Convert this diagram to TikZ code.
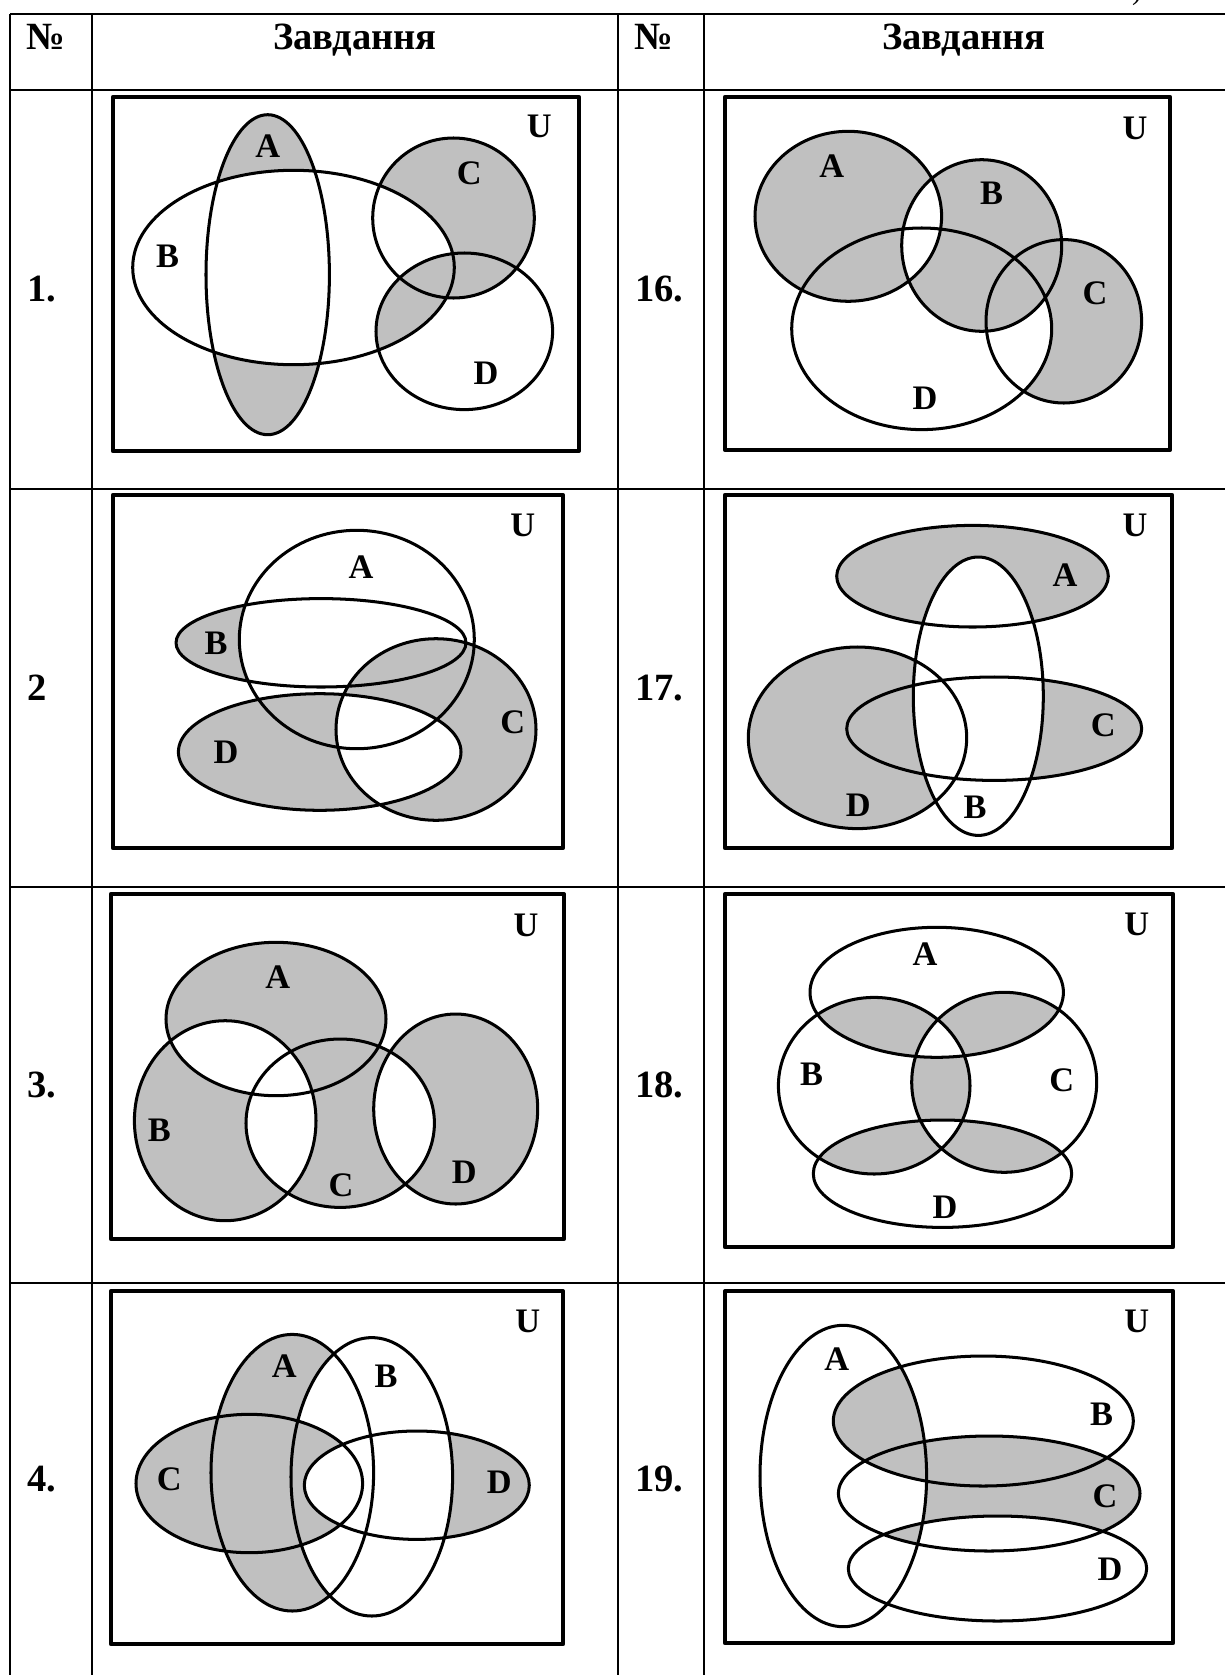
\documentclass[tikz,border=0pt]{standalone}
\usepackage{fontspec}
\setmainfont{Liberation Serif}
\definecolor{vennfill}{RGB}{192,192,192}
\newcommand{\cutin}[1]{\clip #1;}
\newcommand{\cutout}[1]{\clip \bx #1;}
\newcommand{\paintbox}{\fill[vennfill] \bx;}

\begin{document}
\begin{tikzpicture}[x=0.48pt,y=-0.48pt,line join=round,even odd rule,
  venn/.style={line width=1.45pt},
  frame/.style={line width=2pt},
  grid/.style={line width=1pt},
  lbl/.style={font=\bfseries\fontsize{16.5}{18}\selectfont,inner sep=0pt},
  head/.style={font=\bfseries\fontsize{18.5}{20}\selectfont,inner sep=0pt,anchor=base},
  num/.style={font=\bfseries\fontsize{18.5}{20}\selectfont,inner sep=0pt,anchor=west}]
\useasboundingbox (0,0) rectangle (1225,1675);
\node[font=\fontsize{14}{16}\selectfont,inner sep=0pt,anchor=base] (cut) at (1137,-1) {)};
\draw[grid] (10,14) -- (1225,14);
\draw[grid] (10,90) -- (1225,90);
\draw[grid] (10,489) -- (1225,489);
\draw[grid] (10,887) -- (1225,887);
\draw[grid] (10,1283) -- (1225,1283);
\draw[grid] (10,14) -- (10,1675);
\draw[grid] (92,14) -- (92,1675);
\draw[grid] (618,14) -- (618,1675);
\draw[grid] (704,14) -- (704,1675);
\node[head,anchor=base west] (h1) at (26,49) {№};
\node[head] (h2) at (355,49) {Завдання};
\node[head,anchor=base west] (h3) at (634,49) {№};
\node[head] (h4) at (964,49) {Завдання};
\node[num] (n1) at (27,289) {1.};
\node[num] (n2) at (27,688) {2};
\node[num] (n3) at (27,1085) {3.};
\node[num] (n4) at (27,1479) {4.};
\node[num] (n16) at (635,289) {16.};
\node[num] (n17) at (635,688) {17.};
\node[num] (n18) at (635,1085) {18.};
\node[num] (n19) at (635,1479) {19.};

\def\bx{(113,97) rectangle (579,451)}
\def\sA{(267.7,274.7) ellipse [x radius=61.7,y radius=160]}
\def\sB{(293.5,267.5) ellipse [x radius=160.8,y radius=97.2]}
\def\sC{(453.5,218) ellipse [x radius=80.8,y radius=80]}
\def\sD{(464.3,331.3) ellipse [x radius=88.3,y radius=78.3]}
\begin{scope}\cutin\sA\cutout\sB\paintbox\end{scope}
\begin{scope}\cutin\sC\cutout\sB\paintbox\end{scope}
\begin{scope}\cutin\sB\cutin\sD\paintbox\end{scope}
\draw[venn] \sA \sB \sC \sD;
\draw[frame] \bx;
\node[lbl] (a1) at (267.7,146.3) {A};
\node[lbl] (b1) at (167.7,256.3) {B};
\node[lbl] (c1) at (469.3,173) {C};
\node[lbl] (d1) at (486,373) {D};
\node[lbl] (u1) at (539.3,126.3) {U};

\def\bx{(725,97) rectangle (1170,450)}
\def\sA{(848.3,216.3) ellipse [x radius=93.3,y radius=85]}
\def\sB{(981.7,245.5) ellipse [x radius=80,y radius=85.8]}
\def\sC{(1063.8,321.3) ellipse [x radius=77.8,y radius=81.7]}
\def\sD{(921.7,328.8) ellipse [x radius=130,y radius=100.8]}
\begin{scope}\cutin\sA\cutout\sB\paintbox\end{scope}
\begin{scope}\cutin\sB\cutout\sA\paintbox\end{scope}
\begin{scope}\cutin\sC\cutout\sD\paintbox\end{scope}
\draw[venn] \sA \sB \sC \sD;
\draw[frame] \bx;
\node[lbl] (a16) at (831.7,166.3) {A};
\node[lbl] (b16) at (991.7,193) {B};
\node[lbl] (c16) at (1095,293) {C};
\node[lbl] (d16) at (925,398) {D};
\node[lbl] (u16) at (1135,128) {U};

\def\bx{(113,495) rectangle (563,848)}
\def\sA{(356.8,639.5) ellipse [x radius=117.5,y radius=109.2]}
\def\sB{(321,642.8) ellipse [x radius=145,y radius=44.2]}
\def\sC{(436,729.5) ellipse [x radius=100,y radius=90.8]}
\def\sD{(319.7,752) ellipse [x radius=141.3,y radius=58.3]}
\begin{scope}\cutin\sB\cutout\sA\paintbox\end{scope}
\begin{scope}\cutin\sC\cutout\sD\paintbox\end{scope}
\begin{scope}\cutin\sD\cutout\sC\paintbox\end{scope}
\draw[venn] \sA \sB \sC \sD;
\draw[frame] \bx;
\node[lbl] (a2) at (361,567) {A};
\node[lbl] (b2) at (216,643.7) {B};
\node[lbl] (c2) at (512.7,722) {C};
\node[lbl] (d2) at (226,752) {D};
\node[lbl] (u2) at (522.7,525.3) {U};

\def\bx{(725,495) rectangle (1172,848)}
\def\sA{(972.5,576.2) ellipse [x radius=135.8,y radius=50.8]}
\def\sB{(978.3,696.2) ellipse [x radius=65,y radius=139.2]}
\def\sC{(994.2,728.7) ellipse [x radius=147.5,y radius=51.7]}
\def\sD{(857.5,737.8) ellipse [x radius=109.2,y radius=90.8]}
\begin{scope}\cutin\sA\cutout\sB\paintbox\end{scope}
\begin{scope}\cutin\sC\cutout\sB\paintbox\end{scope}
\begin{scope}\cutin\sD\cutout\sB\paintbox\end{scope}
\draw[venn] \sA \sB \sC \sD;
\draw[frame] \bx;
\node[lbl] (a17) at (1065,575.3) {A};
\node[lbl] (b17) at (975,807) {B};
\node[lbl] (c17) at (1103.3,725.3) {C};
\node[lbl] (d17) at (858.3,805.3) {D};
\node[lbl] (u17) at (1135,525.3) {U};

\def\bx{(111,894) rectangle (564,1239)}
\def\sA{(276,1019) ellipse [x radius=110,y radius=76.7]}
\def\sB{(225.2,1120.7) ellipse [x radius=90.8,y radius=100]}
\def\sC{(340.2,1123.2) ellipse [x radius=94.2,y radius=84.2]}
\def\sD{(455.7,1109) ellipse [x radius=82,y radius=95]}
\begin{scope}\cutin\sA\cutout\sB\paintbox\end{scope}
\begin{scope}\cutin\sB\cutout\sA\cutout\sC\paintbox\end{scope}
\begin{scope}\cutin\sC\cutout\sB\cutout\sD\paintbox\end{scope}
\begin{scope}\cutin\sD\cutout\sC\paintbox\end{scope}
\draw[venn] \sA \sB \sC \sD;
\draw[frame] \bx;
\node[lbl] (a3) at (277.7,977.3) {A};
\node[lbl] (b3) at (159.3,1130.7) {B};
\node[lbl] (c3) at (341,1185.7) {C};
\node[lbl] (d3) at (464.3,1172.3) {D};
\node[lbl] (u3) at (526,925.7) {U};

\def\bx{(725,894) rectangle (1173,1247)}
\def\sA{(936.7,992.3) ellipse [x radius=126.7,y radius=65]}
\def\sB{(874.2,1085.7) ellipse [x radius=95.8,y radius=88.3]}
\def\sC{(1004.2,1082.3) ellipse [x radius=92.5,y radius=90]}
\def\sD{(942.5,1173.7) ellipse [x radius=129.2,y radius=53.7]}
\begin{scope}\cutin\sA\cutin\sB\cutout\sC\paintbox\end{scope}
\begin{scope}\cutin\sA\cutin\sC\cutout\sB\paintbox\end{scope}
\begin{scope}\cutin\sD\cutin\sB\cutout\sC\paintbox\end{scope}
\begin{scope}\cutin\sD\cutin\sC\cutout\sB\paintbox\end{scope}
\begin{scope}\cutin\sB\cutin\sC\cutout\sA\cutout\sD\paintbox\end{scope}
\draw[venn] \sA \sB \sC \sD;
\draw[frame] \bx;
\node[lbl] (a18) at (925,954) {A};
\node[lbl] (b18) at (811.7,1074) {B};
\node[lbl] (c18) at (1061.7,1080.7) {C};
\node[lbl] (d18) at (945,1207.3) {D};
\node[lbl] (u18) at (1136.7,924) {U};

\def\bx{(111,1291) rectangle (563,1644)}
\def\sA{(292.3,1472.7) ellipse [x radius=81.3,y radius=138.3]}
\def\sB{(371.8,1476.8) ellipse [x radius=80.8,y radius=139.2]}
\def\sC{(249.3,1483.5) ellipse [x radius=113.3,y radius=69.2]}
\def\sD{(416.8,1485.2) ellipse [x radius=112.5,y radius=54.2]}
\begin{scope}\cutin\sA\cutout\sB\paintbox\end{scope}
\begin{scope}\cutin\sC\cutout\sD\paintbox\end{scope}
\begin{scope}\cutin\sD\cutout\sB\paintbox\end{scope}
\draw[venn] \sA \sB \sC \sD;
\draw[frame] \bx;
\node[lbl] (a4) at (284.3,1366) {A};
\node[lbl] (b4) at (386,1376) {B};
\node[lbl] (c4) at (169.3,1479.3) {C};
\node[lbl] (d4) at (499.3,1482.7) {D};
\node[lbl] (u4) at (527.7,1321) {U};

\def\bx{(725,1291) rectangle (1173,1643)}
\def\sA{(843.3,1476) ellipse [x radius=83.3,y radius=150.7]}
\def\sB{(983.3,1421) ellipse [x radius=150,y radius=65]}
\def\sC{(989.2,1493.5) ellipse [x radius=150.8,y radius=57.5]}
\def\sD{(997.5,1568.5) ellipse [x radius=149.2,y radius=52.5]}
\begin{scope}\cutin\sA\cutin\sB\paintbox\end{scope}
\begin{scope}\cutin\sC\cutout\sA\cutout\sD\paintbox\end{scope}
\begin{scope}\cutin\sA\cutin\sC\cutin\sD\paintbox\end{scope}
\draw[venn] \sA \sB \sC \sD;
\draw[frame] \bx;
\node[lbl] (a19) at (836.7,1359.3) {A};
\node[lbl] (b19) at (1101.7,1414.3) {B};
\node[lbl] (c19) at (1105,1496) {C};
\node[lbl] (d19) at (1110,1569.3) {D};
\node[lbl] (u19) at (1136.7,1321) {U};
\end{tikzpicture}
\end{document}
